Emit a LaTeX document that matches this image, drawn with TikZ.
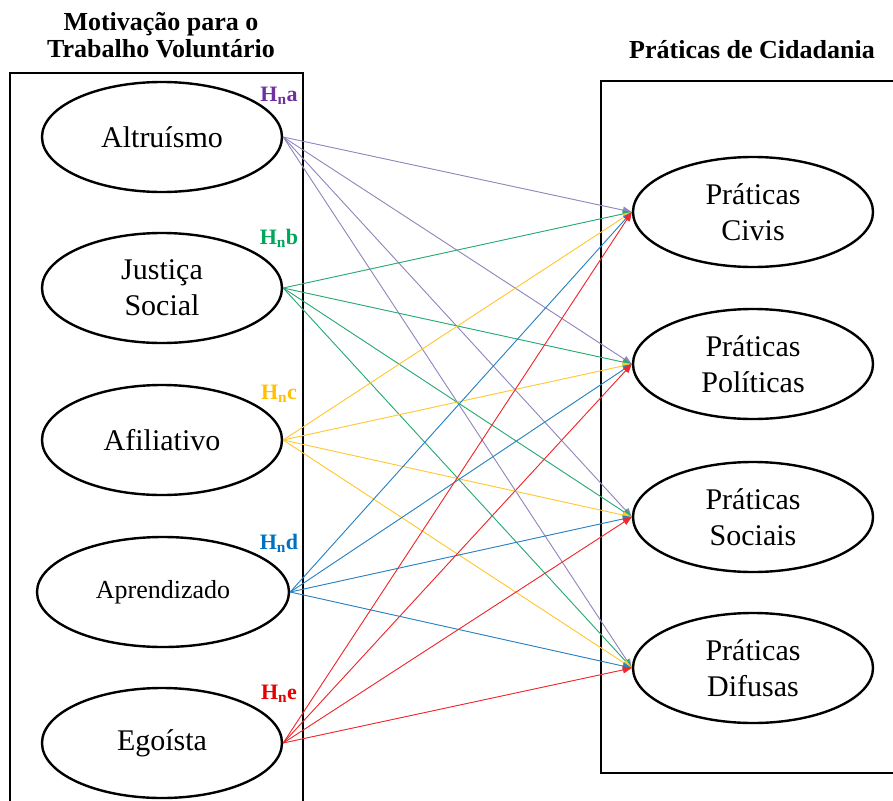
\documentclass[tikz,border=0pt]{standalone}
\usepackage{fontspec}
\setmainfont{Liberation Serif}
\usetikzlibrary{shapes.geometric,arrows.meta}
\definecolor{labA}{RGB}{112,48,160}
\definecolor{labB}{RGB}{0,166,90}
\definecolor{labC}{RGB}{255,192,0}
\definecolor{labD}{RGB}{0,112,192}
\definecolor{labE}{RGB}{230,0,0}
\definecolor{lnA}{RGB}{145,135,190}
\definecolor{lnB}{RGB}{40,170,115}
\definecolor{lnC}{RGB}{255,200,50}
\definecolor{lnD}{RGB}{40,130,195}
\definecolor{lnE}{RGB}{240,40,45}
\begin{document}
\begin{tikzpicture}[x=1pt,y=-1pt,
  oval/.style={ellipse, draw, line width=2.4pt, minimum width=240pt, minimum height=110pt,
    inner sep=0pt, align=center, font=\fontsize{30}{36}\selectfont},
  conn/.style={line width=0.9pt, -{Triangle[length=9pt,width=7pt]}},
  hlab/.style={font=\fontsize{22}{24}\selectfont\bfseries},
  title/.style={font=\fontsize{26}{27}\selectfont\bfseries, align=center},
  frame/.style={line width=2.5pt}]
\useasboundingbox (0,0) rectangle (893,800);

% titles
\node[title] (t1) at (161,35) {Motivação para o\\Trabalho Voluntário};
\node[title, anchor=base] (t2) at (752,59) {Práticas de Cidadania};

% frames
\draw[frame] (10,812) -- (10,73) -- (303,73) -- (303,812);
\draw[frame] (905,773) -- (601,773) -- (601,81) -- (905,81);

% left ovals
\node[oval] (a1) at (162,137) {Altruísmo};
\node[oval] (a2) at (162,288) {Justiça\\Social};
\node[oval] (a3) at (162,440) {Afiliativo};
\node[oval, minimum width=252pt, font=\fontsize{26}{30}\selectfont] (a4) at (163,592) {Aprendizado};
\node[oval] (a5) at (162,743) {Egoísta};

% right ovals
\node[oval] (p1) at (753,212) {Práticas\\Civis};
\node[oval] (p2) at (753,364) {Práticas\\Políticas};
\node[oval] (p3) at (753,517) {Práticas\\Sociais};
\node[oval] (p4) at (753,668) {Práticas\\Difusas};

% hypothesis labels
\node[hlab, text=labA] (h1) at (279,96) {H\textsubscript{n}a};
\node[hlab, text=labB] (h2) at (279,238) {H\textsubscript{n}b};
\node[hlab, text=labC] (h3) at (279,394) {H\textsubscript{n}c};
\node[hlab, text=labD] (h4) at (279,543) {H\textsubscript{n}d};
\node[hlab, text=labE] (h5) at (279,694) {H\textsubscript{n}e};

% connectors
\foreach \s/\c in {a1/lnA,a2/lnB,a3/lnC,a4/lnD,a5/lnE}{
  \foreach \t in {p1,p2,p3,p4}{
    \draw[conn, draw=\c, fill=\c] (\s.east) -- (\t.west);
  }
}
\end{tikzpicture}
\end{document}
